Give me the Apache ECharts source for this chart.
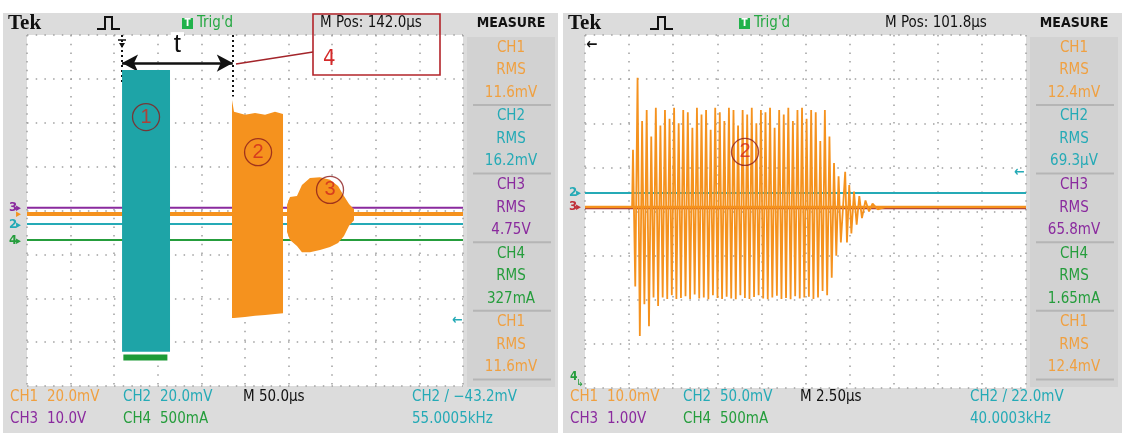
<!DOCTYPE html>
<html>
<head>
<meta charset="utf-8">
<script src="https://cdn.jsdelivr.net/npm/echarts@6/dist/echarts.min.js"></script>
<style>
  html, body { margin: 0; padding: 0; background: #fff; }
  #scope { width: 1125px; height: 433px; }
</style>
</head>
<body>
<div id="scope"></div>
<script>
// ---------------- trace data ----------------
// time in µs, amplitude in screen divisions (±4 div)

// Left screen: 50.0 µs/div
const leftCh3Level = [[0, 0.06], [500, 0.06]];
const leftCh1Level = [[0, -0.08], [500, -0.08]];
const leftCh2Level = [[0, -0.31], [500, -0.31]];
const leftCh4Level = [[0, -0.67], [500, -0.67]];
// envelopes: [time, upper, lower]
const ch2Burst = [[109, 3.20, -3.22], [164, 3.20, -3.22]];
const ch4Pulse = [[110.5, -3.28, -3.42], [161, -3.28, -3.42]];
const ch1Burst2 = [
  [235.1, 2.52, -2.45], [237.4, 2.25, -2.45], [250, 2.18, -2.43], [261.5, 2.22, -2.40],
  [273, 2.18, -2.38], [284.4, 2.25, -2.36], [293.6, 2.20, -2.34]
];
const ch1Burst3 = [
  [298.2, 0.13, -0.49], [301.6, 0.31, -0.67], [309.6, 0.33, -0.81], [315.3, 0.58, -0.95],
  [324.5, 0.74, -0.95], [336, 0.76, -0.90], [347.5, 0.70, -0.83], [356.7, 0.56, -0.74],
  [363.5, 0.33, -0.58], [369.3, 0.15, -0.35], [375, 0.03, -0.22]
];

// Right screen: 2.50 µs/div
const rightCh2Level = [[0, 0.42], [25, 0.42]];
const rightCh3Level = [[0, 0.07], [25, 0.07]];
const rightCh1Level = [[0, 0.10], [25, 0.10]];
const burstStart = 2.72;      // µs
const burstPeriod = 0.259;    // µs per carrier cycle
const burstTops = [
  1.40, 3.03, 2.05, 2.30, 1.70, 2.35, 1.95, 2.30, 2.10, 2.35,
  2.00, 2.30, 2.25, 1.90, 2.35, 2.20, 2.30, 1.85, 2.35, 2.25,
  2.05, 2.35, 2.30, 1.95, 2.30, 2.20, 2.35, 2.00, 2.30, 2.25,
  2.35, 1.90, 2.30, 2.20, 2.35, 2.05, 2.30, 2.35, 2.10, 2.30,
  2.25, 1.60, 2.30, 1.70, 1.10, 0.80
];
const burstBottoms = [
  -1.70, -2.82, -2.10, -2.60, -1.95, -2.14, -1.95, -1.98, -1.90, -1.98,
  -1.96, -1.92, -1.98, -1.88, -1.97, -1.95, -1.99, -1.90, -1.96, -1.98,
  -1.93, -1.97, -1.99, -1.90, -1.96, -1.98, -1.94, -1.90, -1.97, -1.99,
  -1.95, -1.91, -1.98, -1.96, -1.99, -1.92, -1.97, -1.95, -1.93, -1.98,
  -1.95, -1.80, -1.90, -1.50, -1.00, -0.70
];
const ringTail = [
  [14.75, 0.90], [14.85, -0.70], [14.98, 0.60], [15.10, -0.50], [15.25, 0.45],
  [15.40, -0.30], [15.55, 0.35], [15.70, -0.15], [15.90, 0.25], [16.10, 0.00],
  [16.30, 0.18], [16.60, 0.05], [17.00, 0.10]
];

// ---------------- text readouts ----------------
const leftMeasure = [['CH1', '11.6mV'], ['CH2', '16.2mV'], ['CH3', '4.75V'], ['CH4', '327mA'], ['CH1', '11.6mV']];
const rightMeasure = [['CH1', '12.4mV'], ['CH2', '69.3µV'], ['CH3', '65.8mV'], ['CH4', '1.65mA'], ['CH1', '12.4mV']];
const leftScales = [['CH1', '20.0mV', 'CH2', '20.0mV'], ['CH3', '10.0V', 'CH4', '500mA']];
const rightScales = [['CH1', '10.0mV', 'CH2', '50.0mV'], ['CH3', '1.00V', 'CH4', '500mA']];
const leftTiming = ['M 50.0µs', 'CH2 / \u221243.2mV', '55.0005kHz', 'M Pos: 142.0µs'];
const rightTiming = ['M 2.50µs', 'CH2 / 22.0mV', '40.0003kHz', 'M Pos: 101.8µs'];

// ---------------- styling ----------------
const COL = {
  CH1: '#f5921e', CH2: '#25aab6', CH3: '#8a2a9e', CH4: '#259d3c',
  CH1txt: '#f0a040', teal: '#1ea4a7', frame: '#dcdcdc', meas: '#d2d2d2'
};
const NARROW = '"Liberation Sans Narrow","DejaVu Sans Condensed","Arial Narrow","Liberation Sans",sans-serif';
const SERIF = '"Liberation Serif","DejaVu Serif",serif';

function zigzag() {
  const pts = [];
  for (let i = 0; i < burstTops.length; i++) {
    pts.push([burstStart + i * burstPeriod, burstTops[i]]);
    pts.push([burstStart + (i + 0.5) * burstPeriod, burstBottoms[i]]);
  }
  return [[0, rightCh1Level[0][1]], [burstStart - 0.05, rightCh1Level[0][1]]]
    .concat(pts, ringTail, [[25, rightCh1Level[1][1]]]);
}

function envelope(xi, env, color, z) {
  return {
    type: 'custom', xAxisIndex: xi, yAxisIndex: xi, z, silent: true,
    data: [[env[0][0], env[0][1]]],
    renderItem: (params, api) => {
      const up = env.map(p => api.coord([p[0], p[1]]));
      const lo = env.slice().reverse().map(p => api.coord([p[0], p[2]]));
      return { type: 'polygon', shape: { points: up.concat(lo) }, style: { fill: color } };
    }
  };
}

function level(xi, data, color, width, z, extra) {
  return Object.assign({
    type: 'line', xAxisIndex: xi, yAxisIndex: xi, data, showSymbol: false, silent: true, z,
    lineStyle: { color, width }, animation: false
  }, extra || {});
}

function txt(x, y, text, color, size, align, font, weight) {
  return {
    type: 'text', x, y, z: 50, silent: true,
    style: {
      text, fill: color, font: `${weight || 'normal'} ${size}px ${font || NARROW}`,
      align: align || 'left', verticalAlign: 'middle',
      textAlign: align || 'left', textVerticalAlign: 'middle'
    }
  };
}

function panel(x0, w, measX, measure, scales, timing, opts) {
  const g = [];
  g.push({ type: 'rect', z: -10, silent: true, shape: { x: x0, y: 13, width: w, height: 420 }, style: { fill: COL.frame } });
  g.push({ type: 'rect', z: -9, silent: true, shape: { x: measX, y: 37, width: 88, height: 350 }, style: { fill: COL.meas } });
  // header
  g.push(txt(x0 + 5, 24, 'Tek', '#111', 21, 'left', SERIF, 'bold'));
  const px = opts.pulseX;
  g.push({ type: 'polyline', z: 50, silent: true, shape: { points: [[px, 29], [px + 8, 29], [px + 8, 17], [px + 15, 17], [px + 15, 29], [px + 23, 29]] }, style: { stroke: '#111', lineWidth: 2, fill: null } });
  g.push({ type: 'rect', z: 50, silent: true, shape: { x: opts.trigX, y: 18, width: 11, height: 11 }, style: { fill: '#21b24b' } });
  g.push(txt(opts.trigX + 5.5, 23.5, 'T', '#fff', 10, 'center', NARROW, 'bold'));
  g.push(txt(opts.trigX + 15, 23, "Trig'd", '#26a843', 15));
  g.push(txt(opts.mposX, 23, timing[3], '#111', 15));
  g.push(txt(measX + 44, 23, 'MEASURE', '#111', 14, 'center', NARROW, 'bold'));
  // measurement stack
  measure.forEach((m, i) => {
    const y0 = 48 + i * 68.6;
    const c = m[0] === 'CH1' ? COL.CH1txt : COL[m[0]];
    g.push(txt(measX + 44, y0, m[0], c, 15, 'center'));
    g.push(txt(measX + 44, y0 + 22.5, 'RMS', c, 15, 'center'));
    g.push(txt(measX + 44, y0 + 45, m[1], c, 15, 'center'));
    g.push({ type: 'line', z: 40, silent: true, shape: { x1: measX + 6, y1: y0 + 57, x2: measX + 84, y2: y0 + 57 }, style: { stroke: '#b5b5b5', lineWidth: 2 } });
  });
  // scale readouts
  scales.forEach((r, i) => {
    const y = 397 + i * 22;
    const c1 = r[0] === 'CH1' ? COL.CH1txt : COL[r[0]];
    const c2 = COL[r[2]];
    g.push(txt(x0 + 7, y, r[0], c1, 15));
    g.push(txt(x0 + 44, y, r[1], c1, 15));
    g.push(txt(x0 + 120, y, r[2], c2, 15));
    g.push(txt(x0 + 157, y, r[3], c2, 15));
  });
  g.push(txt(opts.mX, 397, timing[0], '#111', 15));
  g.push(txt(opts.trigInfoX, 397, timing[1], COL.CH2, 15));
  g.push(txt(opts.trigInfoX, 419, timing[2], COL.CH2, 15));
  return g;
}

const graphics = []
  .concat(panel(3, 555, 467, leftMeasure, leftScales, leftTiming,
    { pulseX: 97, trigX: 182, mposX: 320, mX: 243, trigInfoX: 412 }))
  .concat(panel(563, 559, 1030, rightMeasure, rightScales, rightTiming,
    { pulseX: 650, trigX: 739, mposX: 885, mX: 800, trigInfoX: 970 }));

// channel markers & small glyphs
graphics.push(
  txt(9, 208, '3', COL.CH3, 13, 'left', NARROW, 'bold'), txt(16, 208, '\u25B8', COL.CH3, 11),
  txt(16, 214, '\u25B8', COL.CH1, 11),
  txt(9, 225, '2', COL.CH2, 13, 'left', NARROW, 'bold'), txt(16, 225, '\u25B8', COL.CH2, 11),
  txt(9, 241, '4', COL.CH4, 13, 'left', NARROW, 'bold'), txt(16, 241, '\u25B8', COL.CH4, 11),
  txt(452, 320, '\u2190', COL.CH2, 14, 'left', NARROW, 'bold'),
  txt(569, 193, '2', COL.CH2, 13, 'left', NARROW, 'bold'), txt(576, 193, '\u25B8', COL.CH2, 11),
  txt(569, 207, '3', '#c0303a', 13, 'left', NARROW, 'bold'), txt(576, 207, '\u25B8', '#c0303a', 11),
  txt(1014, 172, '\u2190', COL.CH2, 14, 'left', NARROW, 'bold'),
  txt(570, 377, '4', COL.CH4, 12, 'left', NARROW, 'bold'), txt(576, 383, '\u21B3', COL.CH4, 10),
  txt(586, 45, '\u2190', '#111', 15, 'left', NARROW, 'bold'),
  // trigger position glyph on the left screen
  { type: 'line', z: 50, silent: true, shape: { x1: 118, y1: 40, x2: 126, y2: 40 }, style: { stroke: '#111', lineWidth: 1.5 } },
  { type: 'polygon', z: 50, silent: true, shape: { points: [[119, 43], [125, 43], [122, 48]] }, style: { fill: '#111' } },
  // callout box 4
  { type: 'rect', z: 60, silent: true, shape: { x: 313, y: 14, width: 127, height: 61 }, style: { fill: null, stroke: '#b3242a', lineWidth: 1.6 } },
  txt(323, 59, '4', '#d42a2a', 22),
  { type: 'line', z: 60, silent: true, shape: { x1: 236, y1: 64, x2: 313, y2: 52 }, style: { stroke: '#a3242a', lineWidth: 1.3 } }
);

const gridLine = { show: true, lineStyle: { color: '#a0a0a0', width: 1.5, type: [1.5, 7.2] } };
function xAx(gi, max, interval) {
  return { gridIndex: gi, type: 'value', min: 0, max, interval, axisLabel: { show: false }, axisLine: { show: false }, axisTick: { show: false }, splitLine: gridLine };
}
function yAx(gi) {
  return { gridIndex: gi, type: 'value', min: -4, max: 4, interval: 1, axisLabel: { show: false }, axisLine: { show: false }, axisTick: { show: false }, splitLine: gridLine };
}

const circled = (xi, pts) => ({
  type: 'scatter', xAxisIndex: xi, yAxisIndex: xi, z: 30, silent: true, data: pts,
  symbol: 'circle', symbolSize: 27,
  itemStyle: { color: 'rgba(0,0,0,0)', borderColor: '#8b1c1c', borderWidth: 1.3 },
  label: { show: true, position: 'inside', formatter: p => p.value[2], color: '#d0281e', fontSize: 20, fontFamily: 'Liberation Sans' }
});

const chart = echarts.init(document.getElementById('scope'), null, { renderer: 'canvas' });
chart.setOption({
  animation: false,
  grid: [
    { left: 27, top: 35, width: 436, height: 351, show: true, backgroundColor: '#fff', borderWidth: 0 },
    { left: 585, top: 35, width: 441, height: 353, show: true, backgroundColor: '#fff', borderWidth: 0 }
  ],
  xAxis: [xAx(0, 500, 50), xAx(1, 25, 2.5)],
  yAxis: [yAx(0), yAx(1)],
  graphic: { elements: graphics },
  series: [
    // left screen
    level(0, leftCh2Level, COL.CH2, 2, 2),
    level(0, leftCh4Level, COL.CH4, 2, 2),
    level(0, leftCh3Level, COL.CH3, 2, 3, {
      markLine: {
        silent: true, symbol: 'none', animation: false,
        lineStyle: { color: '#111', width: 2, type: [2, 3] }, label: { show: false },
        data: [
          [{ coord: [109, 4] }, { coord: [109, 2.9] }],
          [{ coord: [236, 4] }, { coord: [236, 2.6] }]
        ]
      }
    }),
    level(0, leftCh1Level, COL.CH1, 4, 4),
    envelope(0, ch1Burst2, COL.CH1, 5),
    envelope(0, ch1Burst3, COL.CH1, 5),
    envelope(0, ch2Burst, COL.teal, 6),
    envelope(0, ch4Pulse, '#1d9a36', 6),
    level(0, [[109, 3.36], [236, 3.36]], 'rgba(0,0,0,0)', 0, 8, {
      markLine: {
        silent: true, symbol: ['arrow', 'arrow'], symbolSize: [13, 16], animation: false,
        lineStyle: { color: '#111', width: 2.5, type: 'solid' },
        label: { show: true, position: 'middle', formatter: 't', color: '#111', fontSize: 26, fontFamily: 'Liberation Sans', backgroundColor: '#fff', padding: [0, 3] },
        data: [[{ coord: [109, 3.36] }, { coord: [236, 3.36] }]]
      }
    }),
    circled(0, [[136.5, 2.13, '1'], [265, 1.33, '2'], [347.5, 0.47, '3']]),
    // right screen
    level(1, rightCh2Level, COL.CH2, 2, 2),
    level(1, rightCh3Level, '#a0303a', 1.5, 2),
    level(1, rightCh1Level, COL.CH1, 2.5, 3),
    level(1, zigzag(), COL.CH1, 1.8, 4),
    circled(1, [[9.07, 1.35, '2']])
  ]
});
</script>
</body>
</html>
